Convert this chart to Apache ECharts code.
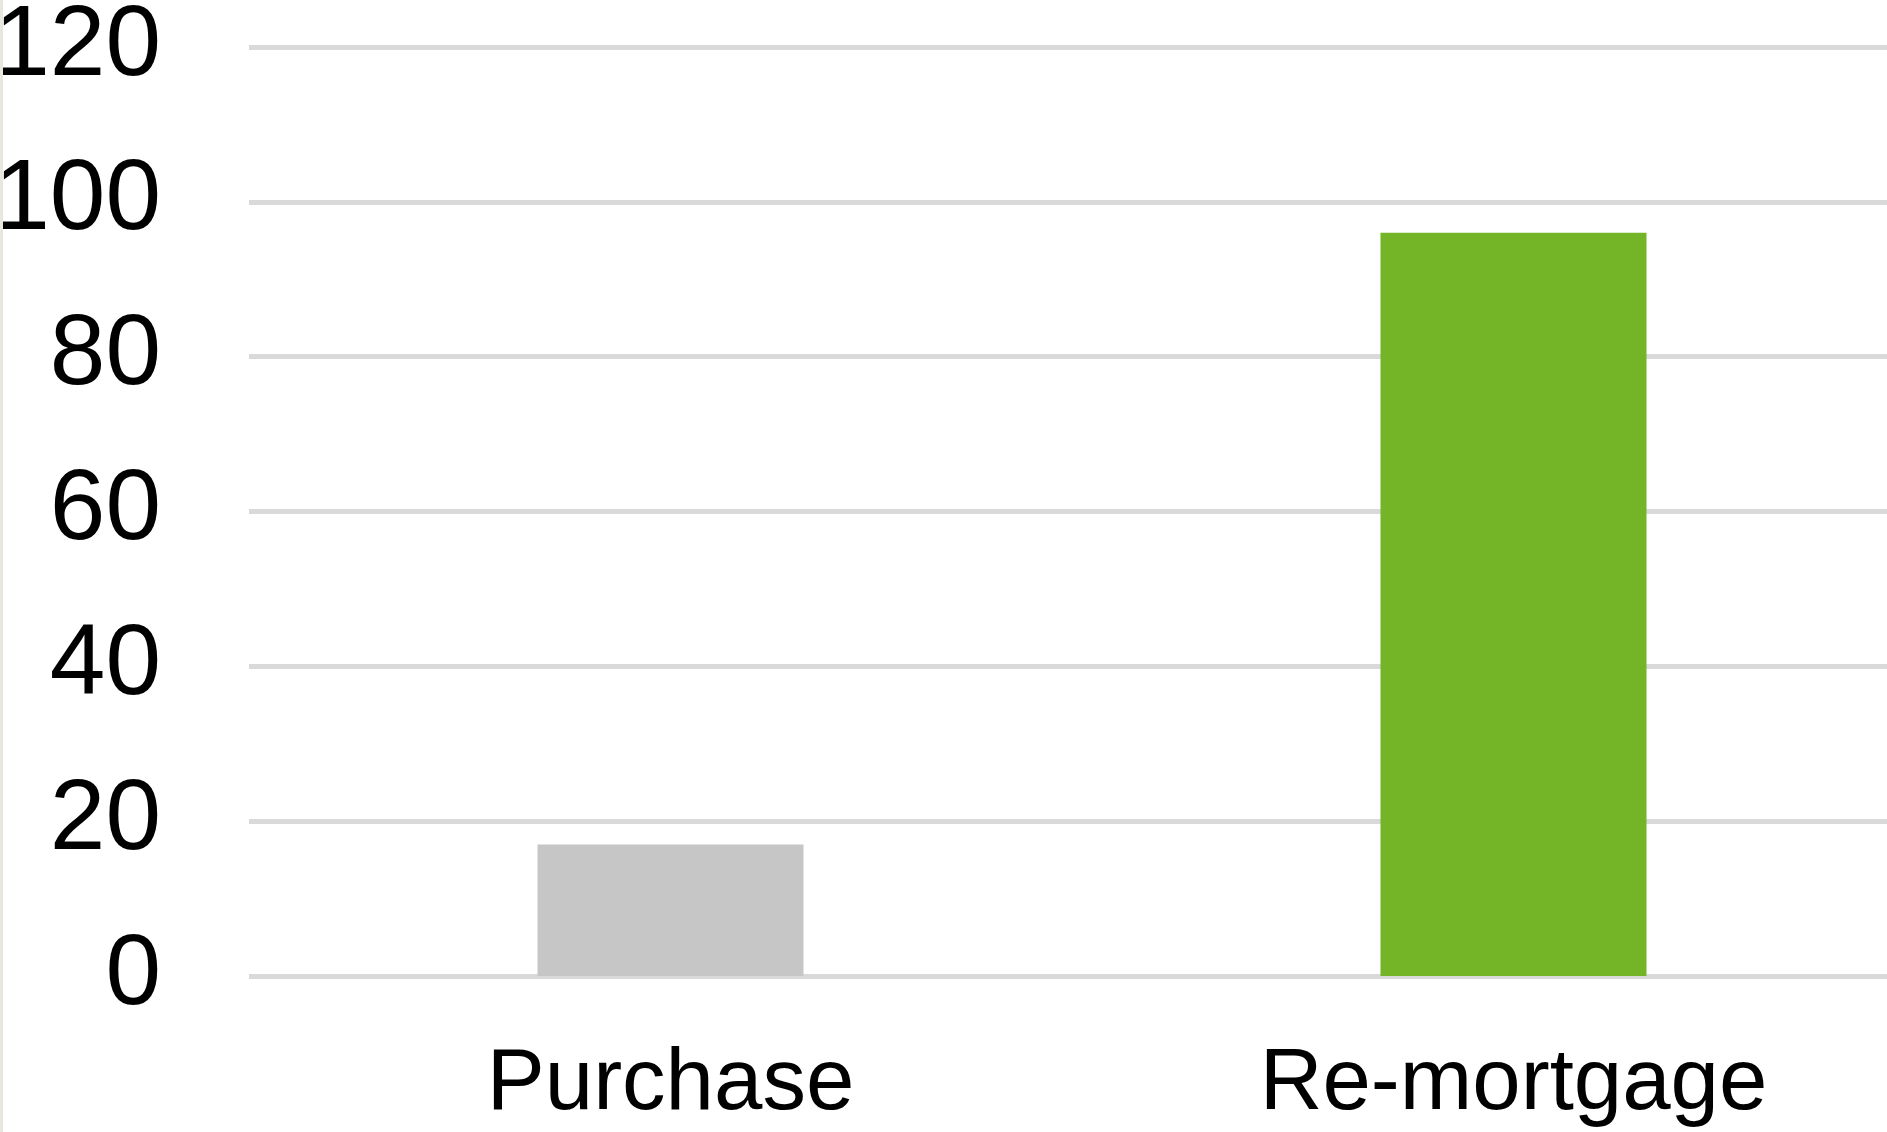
<!DOCTYPE html>
<html>
<head>
<meta charset="utf-8">
<title>Purchase vs Re-mortgage</title>
<script src="https://cdn.jsdelivr.net/npm/echarts@6/dist/echarts.min.js"></script>
<style>
  html, body { margin: 0; padding: 0; background: #ffffff; }
  #wrap { position: relative; width: 1887px; height: 1132px; }
  #edge { position: absolute; left: 0; top: 0; width: 3px; height: 1132px; background: #e8e6df; }
  #chart { position: absolute; left: 0; top: 0; width: 1887px; height: 1132px; }
</style>
</head>
<body>
<div id="wrap">
  <div id="chart"></div>
  <div id="edge"></div>
</div>
<script>
// Categories and their values
const categories = ['Purchase', 'Re-mortgage'];
const values = [17, 96];
const barColors = ['#c6c6c6', '#74b527'];

// Value axis ticks
const yMin = 0;
const yMax = 120;
const yStep = 20;

const chart = echarts.init(document.getElementById('chart'), null, { renderer: 'canvas' });

chart.setOption({
  animation: false,
  backgroundColor: '#ffffff',
  grid: {
    left: 249, top: 47, width: 1686, height: 929,
    containLabel: false,
    outerBoundsMode: 'none'
  },
  xAxis: {
    type: 'category',
    data: categories,
    axisLine: { show: false },
    axisTick: { show: false },
    axisLabel: {
      margin: 66,
      color: '#000000',
      fontFamily: 'Liberation Sans, Arial, sans-serif',
      fontSize: 87
    }
  },
  yAxis: {
    type: 'value',
    min: yMin,
    max: yMax,
    interval: yStep,
    axisLine: { show: false },
    axisTick: { show: false },
    splitLine: { lineStyle: { color: '#d9d9d9', width: 5 } },
    axisLabel: {
      margin: 88,
      padding: [9, 0, 0, 0],
      color: '#000000',
      fontFamily: 'Liberation Sans, Arial, sans-serif',
      fontSize: 100
    }
  },
  series: [{
    type: 'bar',
    barWidth: 266,
    data: values.map((v, i) => ({ value: v, itemStyle: { color: barColors[i] } }))
  }]
});
</script>
</body>
</html>
